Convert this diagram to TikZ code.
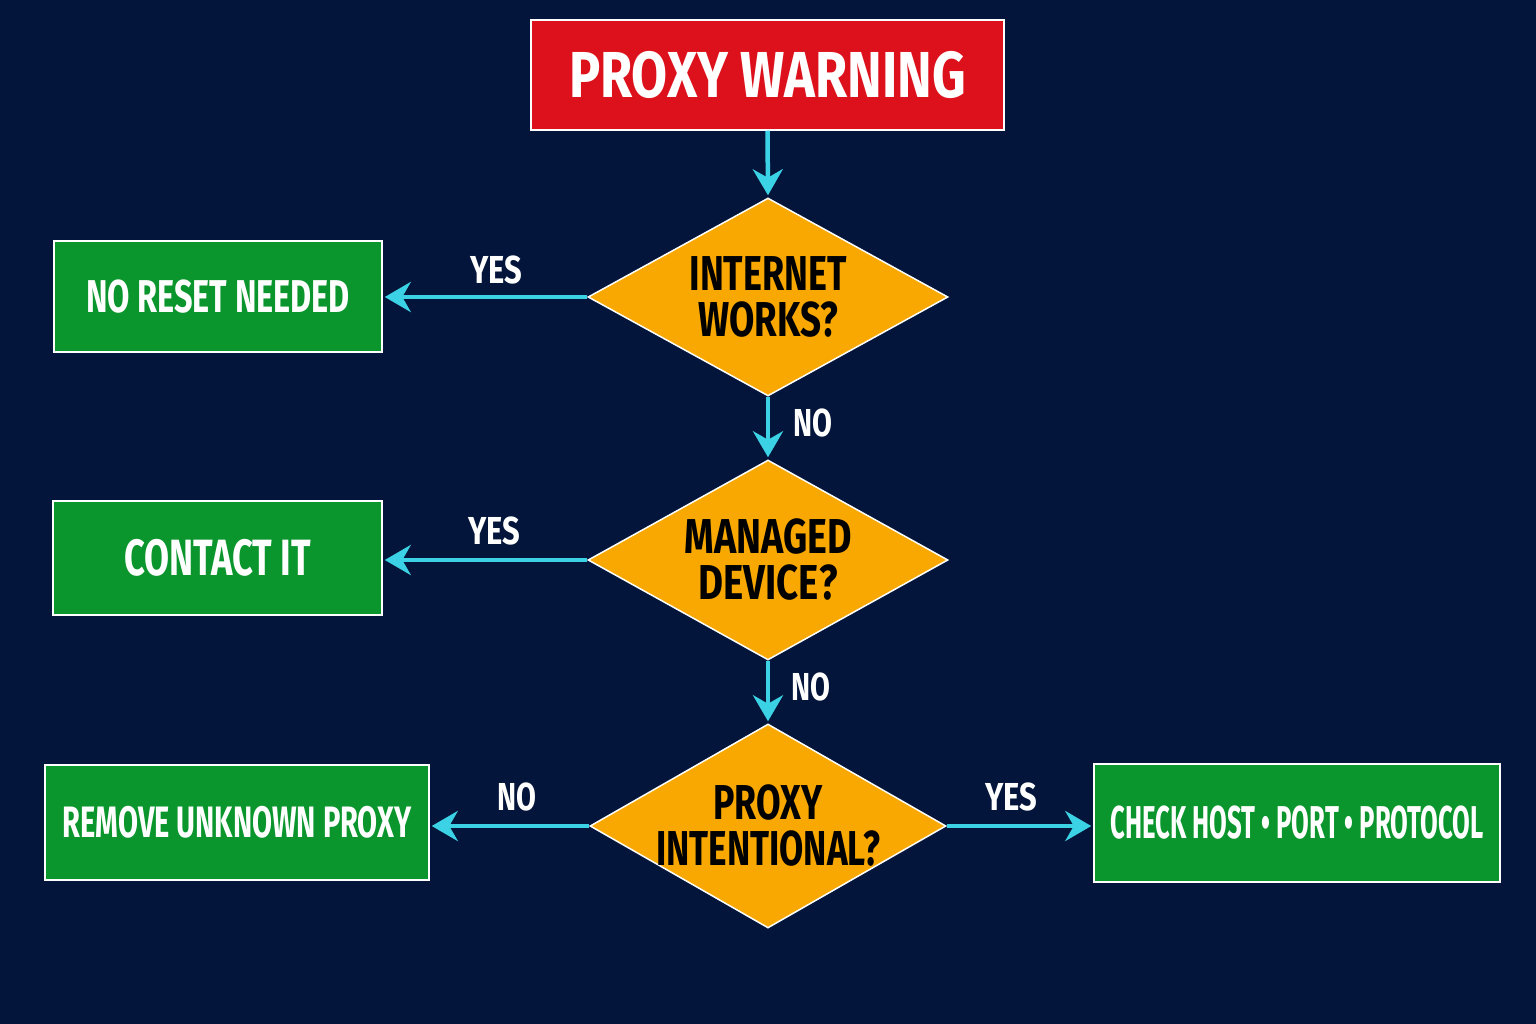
\documentclass[tikz,border=0pt]{standalone}
\usepackage{fontspec}
\usetikzlibrary{shapes.geometric,arrows.meta}
\newfontfamily\lblfont{Fira Sans}
\newlength\fitlen
\newcommand\fitto[2]{\settowidth\fitlen{#2}\scalebox{\fpeval{#1/\fitlen}}[1]{#2}}
\definecolor{bgc}{HTML}{03153A}
\definecolor{redc}{HTML}{DD111C}
\definecolor{greenc}{HTML}{0A962C}
\definecolor{orangec}{HTML}{F8A800}
\definecolor{cyanc}{HTML}{3CD2E6}
\tikzset{
  titlebox/.style={draw=white, line width=1.5pt, fill=redc, text=white, minimum width=473pt, minimum height=110pt, inner sep=0pt, font=\lblfont\bfseries\fontsize{65}{70}\selectfont},
  greenbox/.style={draw=white, line width=1.5pt, fill=greenc, text=white, inner sep=0pt, font=\lblfont\bfseries\fontsize{46}{50}\selectfont},
  dia/.style={shape=diamond, draw=white, line width=1.5pt, fill=orangec, text=black, inner sep=-50pt, align=center, font=\lblfont\bfseries\fontsize{49}{46}\selectfont},
  lbl/.style={text=white, font=\lblfont\bfseries\fontsize{39}{40}\selectfont, inner sep=0pt},
  flow/.style={draw=cyanc, line width=4.5pt, -{Stealth[length=26pt,width=30pt]}, shorten >=2pt}
}
\begin{document}
\begin{tikzpicture}[x=1pt,y=-1pt]
\fill[bgc] (0,0) rectangle (1536,1024);
\useasboundingbox (0,0) rectangle (1536,1024);

\node[titlebox] (title) at (767.5,75) {\fitto{397}{PROXY WARNING}};

\node[dia, minimum width=360pt, minimum height=198pt] (d1) at (768,297) {\fitto{157}{INTERNET}\\\fitto{140}{WORKS?}};
\node[dia, minimum width=360pt, minimum height=200pt] (d2) at (768,560) {\fitto{167}{MANAGED}\\\fitto{139}{DEVICE?}};
\node[dia, minimum width=356pt, minimum height=204pt] (d3) at (768,826) {\fitto{109}{PROXY}\\\fitto{224}{INTENTIONAL?}};

\node[greenbox, minimum width=328pt, minimum height=111pt] (b1) at (218,296.5) {\fitto{264}{NO RESET NEEDED}};
\node[greenbox, minimum width=329pt, minimum height=114pt, font=\lblfont\bfseries\fontsize{51}{55}\selectfont] (b2) at (217.5,558) {\fitto{187}{CONTACT IT}};
\node[greenbox, minimum width=384pt, minimum height=115pt, font=\lblfont\bfseries\fontsize{44}{48}\selectfont] (b3) at (237,822.5) {\fitto{349}{REMOVE UNKNOWN PROXY}};
\node[greenbox, minimum width=406pt, minimum height=118pt] (b4) at (1297,823) {\fitto{373}{CHECK HOST • PORT • PROTOCOL}};

\draw[flow] (title.south) -- (d1.north);
\draw[flow] (d1.west) -- (d1.west -| b1.east);
\draw[flow] (d1.south) -- (d2.north);
\draw[flow] (d2.west) -- (d2.west -| b2.east);
\draw[flow] (d2.south) -- (d3.north);
\draw[flow] (d3.west) -- (d3.west -| b3.east);
\draw[flow] (d3.east) -- (d3.east -| b4.west);

\node[lbl] (y1) at (496,270) {\fitto{52}{YES}};
\node[lbl] (n1) at (813,423) {\fitto{39}{NO}};
\node[lbl] (y2) at (494,531) {\fitto{52}{YES}};
\node[lbl] (n2) at (811,687) {\fitto{39}{NO}};
\node[lbl] (n3) at (517,797) {\fitto{39}{NO}};
\node[lbl] (y3) at (1011,797) {\fitto{52}{YES}};
\end{tikzpicture}
\end{document}
